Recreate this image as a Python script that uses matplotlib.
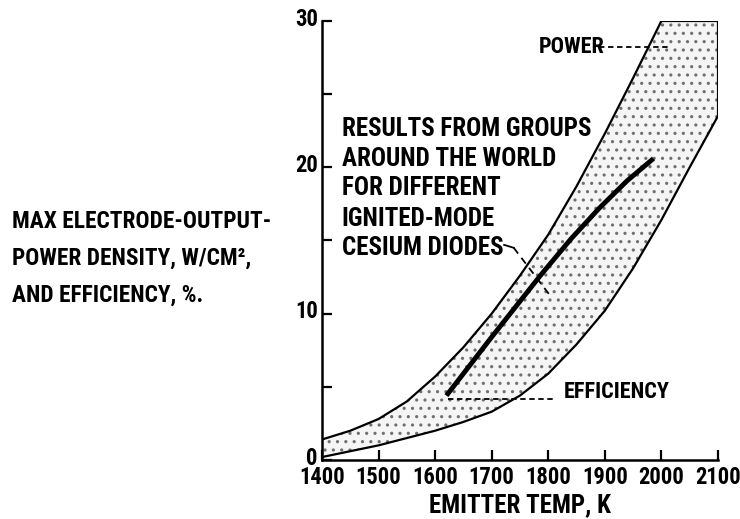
import matplotlib
matplotlib.use("Agg")
import matplotlib.pyplot as plt
import matplotlib.transforms as mtransforms
from matplotlib import font_manager as fm

# pick a narrow bold face if one is installed, else shrink DejaVu
have = {f.name for f in fm.fontManager.ttflist}
face, scale = 'DejaVu Sans', 0.8
for cand in ['Roboto Condensed', 'Liberation Sans Narrow', 'PT Sans Narrow', 'Archivo Narrow']:
    if cand in have:
        face, scale = cand, 1.0
        break
plt.rcParams['font.family'] = [face, 'DejaVu Sans']
plt.rcParams['font.weight'] = 'bold'
plt.rcParams['hatch.linewidth'] = 1.1

# band boundaries (emitter temp K, value)
upper_t = [1400, 1450, 1500, 1550, 1600, 1650, 1700, 1750, 1800, 1850, 1900, 1950, 2000]
upper_v = [1.4, 2.0, 2.8, 4.0, 5.7, 7.7, 10.0, 12.6, 15.4, 18.7, 22.3, 26.1, 30.0]
top_t = [2000, 2100]
top_v = [30.0, 30.0]
lower_t = [1400, 1450, 1500, 1550, 1600, 1650, 1700, 1750, 1800, 1850, 1900, 1950, 2000, 2050, 2100]
lower_v = [0.2, 0.6, 1.0, 1.5, 2.0, 2.6, 3.3, 4.4, 5.9, 7.9, 10.2, 13.1, 16.4, 20.0, 23.5]

# efficiency trend line
eff_t = [1620, 1700, 1786, 1840, 1890, 1940, 1986]
eff_v = [4.4, 8.4, 12.6, 15.1, 17.2, 19.1, 20.6]

x_ticks = [1400, 1500, 1600, 1700, 1800, 1900, 2000, 2100]
y_ticks = [0, 10, 20, 30]
y_minor = [5, 15, 25]

note_lines = ["RESULTS FROM GROUPS", "AROUND THE WORLD", "FOR DIFFERENT",
              "IGNITED-MODE", "CESIUM DIODES"]
note_y = [22.6, 20.6, 18.6, 16.5, 14.5]
ylabel_lines = ["MAX ELECTRODE-OUTPUT-", "POWER DENSITY, W/CM\u00b2,", "AND EFFICIENCY, %."]

fig = plt.figure(figsize=(7.4, 5.19), dpi=100)
ax = fig.add_axes([0.4351, 0.1137, 0.5351, 0.8459])

# stippled band
poly_t = upper_t + top_t[1:] + lower_t[::-1]
poly_v = upper_v + top_v[1:] + lower_v[::-1]
ax.fill(poly_t, poly_v, facecolor='#f5f5f5', edgecolor='#707070', hatch='..', linewidth=0)
ax.plot(upper_t, upper_v, color='black', lw=1.6)
ax.plot(top_t, top_v, color='black', lw=1.6)
ax.plot([2100, 2100], [lower_v[-1], 30], color='black', lw=1.6)
ax.plot(lower_t, lower_v, color='black', lw=1.6)

ax.plot(eff_t, eff_v, color='black', lw=3.5, solid_capstyle='butt')

# leaders
ax.plot([1890, 2016], [28.2, 28.2], color='black', lw=1.3, ls=(0, (3, 2)))
ax.text(1783, 28.2, "POWER", fontsize=16 * scale, va='center', ha='left')
ax.plot([1622, 1812], [4.2, 4.2], color='black', lw=1.3, ls=(0, (3, 2)))
ax.text(1827, 4.65, "EFFICIENCY", fontsize=16 * scale, va='center', ha='left')
ax.plot([1722, 1739], [14.7, 14.5], color='black', lw=1.3)
ax.plot([1739, 1804], [14.5, 11.2], color='black', lw=1.3, ls=(0, (4, 3)))

for line, yv in zip(note_lines, note_y):
    ax.text(1435, yv, line, fontsize=18 * scale, va='center', ha='left')

for i, line in enumerate(ylabel_lines):
    fig.text(12 / 740, 1 - (221 + 37 * i) / 519, line, fontsize=16.8 * scale, va='center', ha='left')

ax.set_xlim(1400, 2100)
ax.set_ylim(0, 30)
ax.set_xticks(x_ticks)
ax.set_yticks(y_ticks)
ax.set_yticks(y_minor, minor=True)
ax.spines['top'].set_visible(False)
ax.spines['right'].set_visible(False)
ax.spines['left'].set_linewidth(1.8)
ax.spines['bottom'].set_linewidth(1.8)
ax.tick_params(axis='both', which='both', direction='in', length=7, width=1.6, labelsize=16.3 * scale)
ax.tick_params(axis='x', pad=4)
ax.tick_params(axis='y', pad=3)
# y labels sit a little above their ticks, as in the original
lift = mtransforms.ScaledTranslation(0, 3 / 72, fig.dpi_scale_trans)
for lab in ax.get_yticklabels():
    lab.set_transform(lab.get_transform() + lift)
ax.set_xlabel("EMITTER TEMP, K", fontsize=18 * scale, fontweight='bold', labelpad=3)

fig.savefig("out.png", dpi=100)
